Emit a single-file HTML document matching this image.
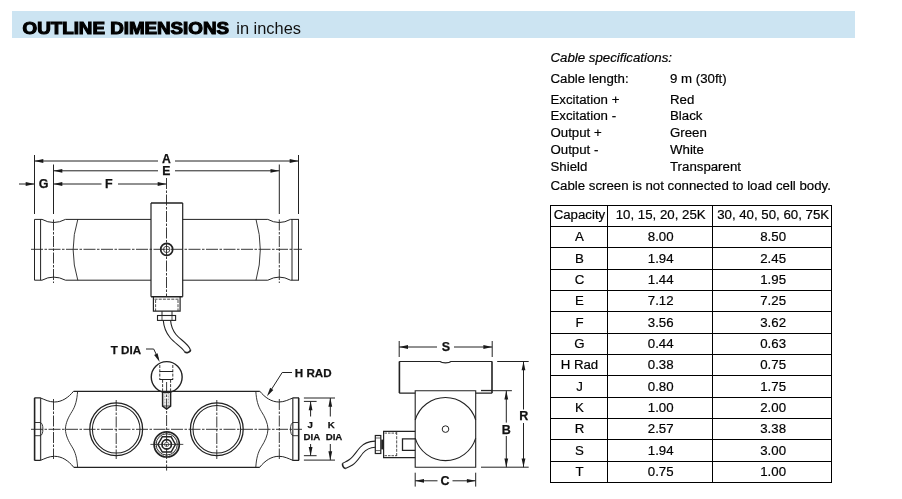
<!DOCTYPE html>
<html>
<head>
<meta charset="utf-8">
<title>Outline Dimensions</title>
<style>
html,body{margin:0;padding:0;background:#fff;}
body{width:902px;height:499px;position:relative;overflow:hidden;font-family:"Liberation Sans",sans-serif;color:#111;}
#bar{position:absolute;left:12px;top:11px;width:843px;height:26.5px;background:#cce4f2;}
#sub{position:absolute;left:236.3px;top:17.8px;font-size:16.4px;line-height:20px;white-space:nowrap;color:#111;}
.t{position:absolute;font-size:13.25px;line-height:16px;white-space:nowrap;color:#000;-webkit-text-stroke:0.2px #000;}
#tbl{position:absolute;left:549.7px;top:205.1px;border-collapse:collapse;font-size:13.25px;color:#000;-webkit-text-stroke:0.2px #000;}
#tbl td{border:1.25px solid #000;text-align:center;padding:0 0 0 1px;height:21.35px;line-height:16px;box-sizing:border-box;}
#tbl td:nth-child(3){padding-left:2.4px;}
#tbl tr.h td{height:20.9px;padding-bottom:1.2px;}
#wrap{position:absolute;left:0;top:0;width:902px;height:499px;will-change:transform;transform:translateZ(0);}
svg{position:absolute;left:0;top:0;}
svg text{font-family:"Liberation Sans",sans-serif;font-weight:bold;fill:#111;stroke:#111;stroke-width:0.25px;}
</style>
</head>
<body>
<div id="bar"></div>
<div id="wrap">
<div id="sub">in inches</div>

<div class="t" style="left:550.5px;top:50.0px;font-style:italic;">Cable specifications:</div>
<div class="t" style="left:550.5px;top:71.2px;">Cable length:</div><div class="t" style="left:670px;top:71.2px;">9 m (30ft)</div>
<div class="t" style="left:550.5px;top:91.6px;">Excitation +</div><div class="t" style="left:670px;top:91.6px;">Red</div>
<div class="t" style="left:550.5px;top:108.0px;">Excitation -</div><div class="t" style="left:670px;top:108.0px;">Black</div>
<div class="t" style="left:550.5px;top:125.0px;">Output +</div><div class="t" style="left:670px;top:125.0px;">Green</div>
<div class="t" style="left:550.5px;top:141.9px;">Output -</div><div class="t" style="left:670px;top:141.9px;">White</div>
<div class="t" style="left:550.5px;top:158.5px;">Shield</div><div class="t" style="left:670px;top:158.5px;">Transparent</div>
<div class="t" style="left:550.5px;top:178.2px;">Cable screen is not connected to load cell body.</div>

<table id="tbl">
<colgroup><col style="width:57.5px"><col style="width:105px"><col style="width:118.5px"></colgroup>
<tr class="h"><td>Capacity</td><td>10, 15, 20, 25K</td><td>30, 40, 50, 60, 75K</td></tr>
<tr><td>A</td><td>8.00</td><td>8.50</td></tr>
<tr><td>B</td><td>1.94</td><td>2.45</td></tr>
<tr><td>C</td><td>1.44</td><td>1.95</td></tr>
<tr><td>E</td><td>7.12</td><td>7.25</td></tr>
<tr><td>F</td><td>3.56</td><td>3.62</td></tr>
<tr><td>G</td><td>0.44</td><td>0.63</td></tr>
<tr><td>H Rad</td><td>0.38</td><td>0.75</td></tr>
<tr><td>J</td><td>0.80</td><td>1.75</td></tr>
<tr><td>K</td><td>1.00</td><td>2.00</td></tr>
<tr><td>R</td><td>2.57</td><td>3.38</td></tr>
<tr><td>S</td><td>1.94</td><td>3.00</td></tr>
<tr><td>T</td><td>0.75</td><td>1.00</td></tr>
</table>

<svg width="902" height="499" viewBox="0 0 902 499">
<defs>
<path id="ah" d="M0,0 L-8.8,-1.9 L-8.8,1.9 Z" fill="#1a1a1a" stroke="none"/>
</defs>
<g fill="none" stroke="#222" stroke-width="1" stroke-linecap="butt">

<!-- ===== TOP VIEW ===== -->
<g id="topview">
<!-- extension lines -->
<path d="M34.5,155 V214 M298.5,155 V214 M53.5,164.5 V214 M279.3,164.5 V214"/>
<!-- dim A -->
<path d="M34.5,161 H158 M175,161 H298.5"/>
<!-- dim E -->
<path d="M53.5,170.8 H158 M175,170.8 H279.3"/>
<!-- dim G / F -->
<path d="M19,184 H34.5 M53.5,184 H101.5 M118,184 H166.5"/>
<!-- body -->
<path d="M34.5,219.4 V280.2 M40.6,219.4 V280.2 M292,219.4 V280.2 M298.5,219.4 V280.2"/>
<path d="M34.5,219.4 H42 Q53.5,225.6 65.5,219.4 H151 M182.7,219.4 H267.8 Q279.3,225.6 290.5,219.4 H299"/>
<path d="M34.5,280.2 H42 Q53.5,274 65.5,280.2 H151 M182.7,280.2 H267.8 Q279.3,274 290.5,280.2 H299"/>
<path d="M77.8,219.4 Q68.5,249.8 77.8,280.2 M256,219.4 Q264.6,249.8 256,280.2" stroke-width="0.9"/>
<!-- central block -->
<path d="M151,203 V296.7 M182.7,203 V296.7" stroke-width="1.2"/>
<path d="M151,203 H182.7 M151,296.8 H182.7" stroke-width="1.5"/>
<!-- center lines -->
<path d="M31,249.3 H302" stroke-dasharray="12 1.5 2.5 1.5" stroke-width="0.9"/>
<path d="M166.5,178 V297" stroke-dasharray="11 1.5 2.5 1.5" stroke-width="0.9"/>
<path d="M53.5,219.5 V283 M279.3,219.5 V283" stroke-dasharray="11 1.5 2.5 1.5" stroke-width="0.9"/>
<!-- screw -->
<circle cx="166.7" cy="249.4" r="6" stroke-width="1.7"/>
<circle cx="166.7" cy="249.4" r="3.2" stroke-width="0.8"/>
<!-- connector -->
<path d="M153.4,296.7 V311.2 H180.1 V296.7" stroke-width="1.2"/>
<path d="M154.5,299.2 H179.5 M155.6,300 V311 M178,300 V311" stroke-dasharray="3 1.2" stroke-width="0.8"/>
<path d="M162,311.2 V315.5 M172,311.2 V315.5"/>
<rect x="157.5" y="315.5" width="18.1" height="4.9" stroke-width="1.1"/>
<path d="M162,315.5 V320.4 M172,315.5 V320.4" stroke-width="0.8"/>
<!-- cable -->
<path d="M163.3,320.5 C163.8,327 165.5,332 170,337.5 C174.5,343 181,346.5 184.4,351.2" stroke-width="1.1"/>
<path d="M170.6,320.5 C171,326 172.5,330 176,334.5 C180,339.5 188,343.5 190.4,349.7" stroke-width="1.1"/>
<path d="M184.4,351.2 C185.5,353.7 190.9,352.5 190.4,349.7" stroke-width="1.6"/>
</g>

<!-- ===== FRONT VIEW ===== -->
<g id="frontview">
<!-- T DIA leader -->
<path d="M146,349 H153.7 L158.3,358.6"/>
<circle cx="166.7" cy="377.1" r="15.45" stroke-width="1.4"/>
<path d="M159.6,371.5 H173 M159.6,379.5 H173" stroke-width="1.2"/>
<path d="M159.8,365 V379.8 M172.8,365 V379.8 M162.6,379.8 V391 M170.6,379.8 V391" stroke-dasharray="3 1.3" stroke-width="0.9"/>
<path d="M162.6,391 V406 L166.6,409 L170.6,406 V391" stroke-width="1.5"/>
<path d="M162.6,406 H170.6" stroke-width="0.8"/>
<path d="M164.9,392.5 V405.5 M168.3,392.5 V405.5" stroke-width="0.6" stroke-dasharray="2 1" stroke="#555"/>
<!-- body -->
<path d="M73.6,391.4 H259.8 M73.6,467.4 H259.8" stroke-width="1.1"/>
<!-- left flange -->
<path d="M34.6,397.9 V460.4" stroke-width="1.6"/>
<path d="M34.4,397.9 H40.6 M34.4,460.4 H40.6" stroke-width="1.1"/>
<path d="M40.6,397.9 V460.4" stroke-width="1.3" stroke="#444"/>
<path d="M40.4,397.9 C45,399.7 49,402 54.5,402 C62,402 68.5,397.5 73.6,391.2"/>
<path d="M40.4,460.4 C45,458.6 49,456.3 54.5,456.3 C62,456.3 68.5,460.8 73.6,467.1"/>
<path d="M77.6,391.2 C77,400 75.5,406 72,411.5 C68.5,417 65.6,423 65.4,429.1 C65.6,435.3 68.5,441.3 72,446.8 C75.5,452.3 77,458.3 77.6,467.1" stroke-width="0.9"/>
<path d="M34.4,422.5 H40.4 Q42.9,423.5 42.9,429.1 Q42.9,434.7 40.4,435.7 H34.4" stroke-width="0.9"/>
<!-- right flange -->
<path d="M298.7,397.9 V460.4" stroke-width="1.6"/>
<path d="M299,397.9 H292.8 M299,460.4 H292.8" stroke-width="1.1"/>
<path d="M292.8,397.9 V460.4" stroke-width="1.3" stroke="#444"/>
<path d="M293,397.9 C288.4,399.7 284.4,402 278.9,402 C271.4,402 264.9,397.5 259.8,391.2"/>
<path d="M293,460.4 C288.4,458.6 284.4,456.3 278.9,456.3 C271.4,456.3 264.9,460.8 259.8,467.1"/>
<path d="M255.8,391.2 C256.4,400 257.9,406 261.4,411.5 C264.9,417 267.8,423 268,429.1 C267.8,435.3 264.9,441.3 261.4,446.8 C257.9,452.3 256.4,458.3 255.8,467.1" stroke-width="0.9"/>
<path d="M299,422.5 H293 Q290.5,423.5 290.5,429.1 Q290.5,434.7 293,435.7 H299" stroke-width="0.9"/>
<!-- holes -->
<circle cx="116.2" cy="429.2" r="26.4" stroke-width="1.25"/>
<circle cx="116.2" cy="429.2" r="23.8" stroke-width="1.05"/>
<circle cx="216.8" cy="429.2" r="26.4" stroke-width="1.25"/>
<circle cx="216.8" cy="429.2" r="23.8" stroke-width="1.05"/>
<!-- center lines -->
<path d="M31,429.3 H302" stroke-dasharray="12 1.5 2.5 1.5" stroke-width="0.9"/>
<path d="M53.5,399 V459 M279.3,399 V459 M116.2,400 V459 M216.8,400 V459" stroke-dasharray="11 1.5 2.5 1.5" stroke-width="0.9"/>
<path d="M166.6,382 V470.6" stroke-dasharray="11 1.5 2.5 1.5" stroke-width="0.9"/>
<!-- connector front -->
<circle cx="166.7" cy="444.4" r="12.6" stroke-width="1.7"/>
<circle cx="166.7" cy="444.4" r="11.6" stroke-width="0.7" stroke-dasharray="1 1.1" stroke="#555"/>
<circle cx="166.7" cy="444.4" r="10.6" stroke-width="0.9"/>
<path d="M175.5,444.4 L171.1,452 H162.3 L157.9,444.4 L162.3,436.8 H171.1 Z" stroke-width="1.4"/>
<circle cx="166.7" cy="444.4" r="4.7" stroke-width="1.7"/>
<circle cx="166.7" cy="444.4" r="2.2" stroke-width="0.6"/>
<path d="M150.4,444.4 H183.3" stroke-width="0.8"/>
<!-- H RAD leader -->
<path d="M292,372.5 H282.2 L268.5,394"/>
<!-- J / K dims -->
<path d="M303.9,401.4 H316.6 M303.9,455.7 H316.6 M303.9,398 H335 M303.9,460.1 H335"/>
<path d="M310.6,401.4 V416.5 M310.6,444 V455.7 M330.3,398 V416.5 M330.3,444 V460.1"/>
</g>

<!-- ===== SIDE VIEW ===== -->
<g id="sideview">
<path d="M399.2,341 V357 M492.2,341 V357"/>
<path d="M399.2,347 H437 M454,347 H492.2"/>
<!-- top block -->
<path d="M399.2,361.5 H440 C442,363.3 449,363.3 451,361.5 H492.2 M399.2,393.1 H415.2 M475.7,393.1 H492.2" stroke-width="1.1"/>
<path d="M399.4,361.5 V393.1 M492,361.5 V393.1" stroke-width="1.6"/>
<path d="M481,390.4 H492" stroke-width="1"/>
<!-- lower block -->
<path d="M415.2,390.7 V467.2 H475.7 V390.7 Z" stroke-width="1.1"/>
<!-- big circle clipped -->
<path d="M415.2,420 A31.6,31.6 0 0 1 475.7,420 M415.2,438.2 A31.6,31.6 0 0 0 475.7,438.2" stroke-width="1.1"/>
<circle cx="445.5" cy="429.1" r="3.3" stroke-width="1"/>
<!-- connector -->
<path d="M415.2,431.3 H383.6 V457.7 H415.2" stroke-width="1.2"/>
<path d="M384.5,433.1 H396.7 M384.5,455.7 H396.7" stroke-dasharray="2.5 1" stroke-width="0.8"/>
<path d="M396.7,432 V457" stroke-dasharray="3 1.2" stroke-width="0.8"/>
<path d="M415.2,438.9 H402.5 V450.3 H415.2" stroke-width="1.3"/>
<path d="M382.3,439.6 V449.4" stroke-width="2.2"/>
<rect x="375.3" y="435.5" width="5.5" height="18" stroke-width="1.2"/>
<path d="M375.3,438 H380.8 M375.3,450.6 H380.8" stroke-width="0.7"/>
<!-- cable -->
<path d="M375.2,441.1 C368,441.3 363.5,443.5 360,447.5 C356,452 353.5,456.5 349.5,459.5 C347,461.3 344.5,462.3 342.7,463.3" stroke-width="1.1"/>
<path d="M375.2,447.2 C369.5,447.4 366,449.5 363,453 C359.5,457.5 357,462 352.5,465 C350,466.6 348,467.4 345.8,468.3" stroke-width="1.1"/>
<path d="M342.7,463.3 C342,465 343.5,468.8 345.8,468.3" stroke-width="1.6"/>
<!-- C dim -->
<path d="M415.2,472.7 V486.6 M475.7,472.7 V486.6 M415.2,480.8 H437.5 M452.5,480.8 H475.7"/>
<!-- B / R dims -->
<path d="M497.2,361.5 H528.7 M481,390.7 H511.9 M481,467.2 H528.7"/>
<path d="M506.3,390.7 V422.6 M506.3,436 V467.2 M523.5,361.5 V409.5 M523.5,423 V467.2"/>
</g>
</g>

<!-- arrowheads -->
<g>
<use href="#ah" transform="translate(34.5,161) rotate(180)"/>
<use href="#ah" transform="translate(298.5,161)"/>
<use href="#ah" transform="translate(53.5,170.8) rotate(180)"/>
<use href="#ah" transform="translate(279.3,170.8)"/>
<use href="#ah" transform="translate(34.5,184)"/>
<use href="#ah" transform="translate(53.5,184) rotate(180)"/>
<use href="#ah" transform="translate(166.5,184)"/>
<use href="#ah" transform="translate(159.7,362) rotate(64)"/>
<use href="#ah" transform="translate(267,396.3) rotate(122.5)"/>
<use href="#ah" transform="translate(310.6,401.4) rotate(-90)"/>
<use href="#ah" transform="translate(310.6,455.7) rotate(90)"/>
<use href="#ah" transform="translate(330.3,398) rotate(-90)"/>
<use href="#ah" transform="translate(330.3,460.1) rotate(90)"/>
<use href="#ah" transform="translate(399.2,347) rotate(180)"/>
<use href="#ah" transform="translate(492.2,347)"/>
<use href="#ah" transform="translate(415.2,480.8) rotate(180)"/>
<use href="#ah" transform="translate(475.7,480.8)"/>
<use href="#ah" transform="translate(506.3,390.7) rotate(-90)"/>
<use href="#ah" transform="translate(506.3,467.2) rotate(90)"/>
<use href="#ah" transform="translate(523.5,361.5) rotate(-90)"/>
<use href="#ah" transform="translate(523.5,467.2) rotate(90)"/>
</g>

<text x="22.6" y="33.9" font-size="16" textLength="206.4" lengthAdjust="spacingAndGlyphs" style="fill:#000;stroke:#000;stroke-width:1.05px;stroke-linejoin:miter">OUTLINE DIMENSIONS</text>
<!-- labels -->
<g font-size="12.5" text-anchor="middle">
<text x="166.4" y="163.1" font-size="12.2">A</text>
<text x="166.3" y="175.1" font-size="12.2">E</text>
<text x="43.5" y="188.3">G</text>
<text x="108.8" y="188.3">F</text>
<text x="445.8" y="351.2">S</text>
<text x="444.9" y="485">C</text>
<text x="506.3" y="433.8">B</text>
<text x="523.7" y="420.2">R</text>
</g>
<g font-size="11.6" text-anchor="start">
<text x="110.8" y="353.5">T DIA</text>
<text x="294.8" y="376.8">H RAD</text>
</g>
<g font-size="9.7" text-anchor="middle">
<text x="310.3" y="428">J</text>
<text x="311.8" y="440">DIA</text>
<text x="331.3" y="428">K</text>
<text x="334" y="440">DIA</text>
</g>
</svg>
</div>
</body>
</html>
